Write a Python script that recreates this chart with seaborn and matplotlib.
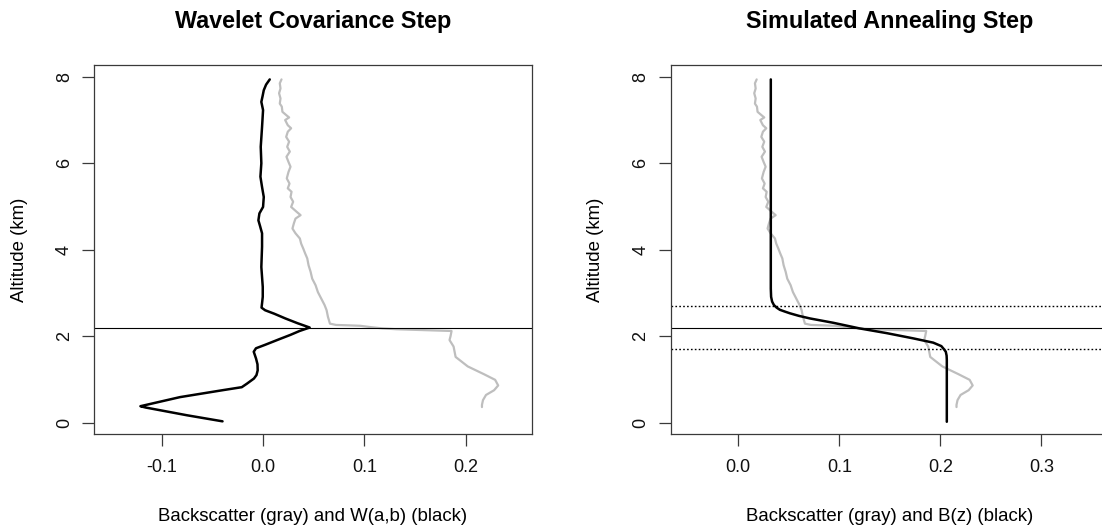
import matplotlib
matplotlib.use("Agg")
import matplotlib.pyplot as plt
import pandas as pd
import seaborn as sns

# Lidar backscatter profile, altitude (km) vs backscatter (shared by both panels)
backscatter_alt = [7.94, 7.85, 7.73, 7.62, 7.50, 7.38, 7.31, 7.19, 7.11, 7.06,
                   7.00, 6.88, 6.81, 6.73, 6.61, 6.50, 6.38, 6.27, 6.15, 6.03,
                   5.92, 5.80, 5.65, 5.53, 5.42, 5.34, 5.22, 5.11, 4.99, 4.88,
                   4.80, 4.72, 4.61, 4.49, 4.38, 4.26, 4.14, 4.03, 3.91, 3.80,
                   3.64, 3.49, 3.33, 3.18, 3.02, 2.87, 2.72, 2.60, 2.45, 2.29,
                   2.26, 2.25, 2.24, 2.21, 2.18, 2.16, 2.15, 2.14, 2.13, 2.12,
                   2.00, 1.91, 1.76, 1.52, 1.30, 1.12, 0.99, 0.86, 0.75, 0.64,
                   0.52, 0.41, 0.36]
backscatter_val = [0.0182, 0.0165, 0.0172, 0.0158, 0.0172, 0.0165, 0.0185, 0.0191, 0.0231, 0.0257,
                   0.0218, 0.0244, 0.0277, 0.0244, 0.0228, 0.0257, 0.0238, 0.0264, 0.0231, 0.0251,
                   0.0271, 0.0251, 0.0234, 0.0261, 0.0244, 0.0281, 0.0271, 0.0297, 0.0277, 0.0330,
                   0.0370, 0.0320, 0.0304, 0.0290, 0.0320, 0.0363, 0.0376, 0.0396, 0.0416, 0.0436,
                   0.0449, 0.0469, 0.0485, 0.0518, 0.0541, 0.0574, 0.0607, 0.0627, 0.0640, 0.0660,
                   0.072, 0.085, 0.096, 0.106, 0.118, 0.132, 0.145, 0.159, 0.172, 0.186,
                   0.185, 0.184, 0.188, 0.190, 0.202, 0.218, 0.229, 0.232, 0.228, 0.220,
                   0.217, 0.216, 0.216]

# Wavelet covariance transform W(a,b)
wavelet_alt = [0.03, 0.17, 0.35, 0.38, 0.59, 0.75, 0.82, 0.90, 1.02, 1.10,
               1.21, 1.35, 1.48, 1.64, 1.72, 1.80, 1.93, 2.03, 2.12, 2.20,
               2.30, 2.41, 2.52, 2.60, 2.66, 2.76, 2.91, 3.14, 3.60, 4.07,
               4.38, 4.55, 4.68, 4.84, 4.99, 5.22, 5.45, 5.69, 6.00, 6.38,
               6.84, 7.23, 7.42, 7.55, 7.69, 7.82, 7.94]
wavelet_val = [-0.040, -0.075, -0.116, -0.121, -0.082, -0.040, -0.021, -0.016, -0.009, -0.0065,
               -0.0053, -0.0055, -0.0069, -0.0092, -0.0070, 0.002, 0.016, 0.027, 0.036, 0.046,
               0.034, 0.022, 0.011, 0.002, -0.0015, -0.001, -0.0003, -0.0003, -0.0017, -0.001,
               -0.001, -0.003, -0.0046, -0.0036, 0.0, 0.0007, -0.001, -0.0026, -0.0017, -0.0023,
               -0.001, 0.0, -0.0017, -0.0005, 0.0007, 0.003, 0.0066]

# Idealised profile B(z) fitted by simulated annealing
fit_alt = [0.02, 1.45, 1.55, 1.64, 1.70, 1.77, 1.85, 1.95, 2.07, 2.18,
           2.31, 2.41, 2.47, 2.53, 2.57, 2.61, 2.66, 2.72, 2.80, 2.91,
           3.10, 7.94]
fit_val = [0.2064, 0.2064, 0.2062, 0.2054, 0.2035, 0.201, 0.193, 0.173, 0.147, 0.120,
           0.094, 0.071, 0.060, 0.051, 0.046, 0.0412, 0.0380, 0.0353, 0.0335, 0.0325,
           0.0322, 0.0322]

# Boundary layer top and its transition zone (km)
bl_top = 2.2
bl_zone = [1.7, 2.7]

yticks = [0, 2, 4, 6, 8]
left_xticks = [-0.1, 0.0, 0.1, 0.2]
right_xticks = [0.0, 0.1, 0.2, 0.3]

titles = ["Wavelet Covariance Step", "Simulated Annealing Step"]
xlabels = ["Backscatter (gray) and W(a,b) (black)",
           "Backscatter (gray) and B(z) (black)"]
ylabel = "Altitude (km)"

sns.set_style("ticks")
plt.rcParams["font.family"] = ["Liberation Sans", "DejaVu Sans"]
plt.rcParams["text.color"] = "black"
plt.rcParams["axes.labelcolor"] = "black"

bs = pd.DataFrame({"alt": backscatter_alt, "val": backscatter_val})
wv = pd.DataFrame({"alt": wavelet_alt, "val": wavelet_val})
fit = pd.DataFrame({"alt": fit_alt, "val": fit_val})

fig = plt.figure(figsize=(11.02, 5.27), dpi=100)
ax1 = fig.add_axes([0.0856, 0.1759, 0.3969, 0.7013])
ax2 = fig.add_axes([0.6086, 0.1759, 0.3969, 0.7013])

gray = "#BEBEBE"
edge = "#3a3a3a"

# Left panel: backscatter and wavelet covariance
sns.lineplot(data=bs, x="val", y="alt", sort=False, estimator=None,
             color=gray, lw=1.6, ax=ax1)
sns.lineplot(data=wv, x="val", y="alt", sort=False, estimator=None,
             color="black", lw=1.8, ax=ax1)
ax1.axhline(bl_top, color="black", lw=0.8)
ax1.set_xlim(-0.1665, 0.2651)
ax1.set_xticks(left_xticks)
ax1.set_xticklabels([f"{v:.1f}" for v in left_xticks])

# Right panel: backscatter and fitted idealised profile
sns.lineplot(data=bs, x="val", y="alt", sort=False, estimator=None,
             color=gray, lw=1.6, ax=ax2)
sns.lineplot(data=fit, x="val", y="alt", sort=False, estimator=None,
             color="black", lw=1.8, ax=ax2)
ax2.axhline(bl_top, color="black", lw=0.8)
for z in bl_zone:
    ax2.axhline(z, color="black", lw=1.0, ls=(0, (1.2, 1.6)))
ax2.set_xlim(-0.0669, 0.366)
ax2.set_xticks(right_xticks)
ax2.set_xticklabels([f"{v:.1f}" for v in right_xticks])

for ax, title, xl in zip([ax1, ax2], titles, xlabels):
    ax.set_ylim(-0.27, 8.28)
    ax.set_yticks(yticks)
    ax.set_yticklabels([str(v) for v in yticks])
    for s in ax.spines.values():
        s.set_color(edge)
        s.set_linewidth(0.9)
    ax.tick_params(axis="both", direction="out", length=8.5, width=0.9,
                   color=edge, labelsize=13, labelcolor="#111111")
    ax.tick_params(axis="x", pad=9)
    ax.tick_params(axis="y", pad=7, labelrotation=90)
    for lab in ax.get_yticklabels():
        lab.set_va("center")
    ax.set_title(title, fontsize=16.8, fontweight="bold", y=1.117, va="center",
                 pad=0, color="black")
    ax.set_xlabel(xl, fontsize=13.4)
    ax.set_ylabel(ylabel, fontsize=13.4)
    ax.xaxis.set_label_coords(0.5, -0.2)
    ax.yaxis.set_label_coords(-0.152, 0.5)

fig.savefig("out.png", dpi=100)
